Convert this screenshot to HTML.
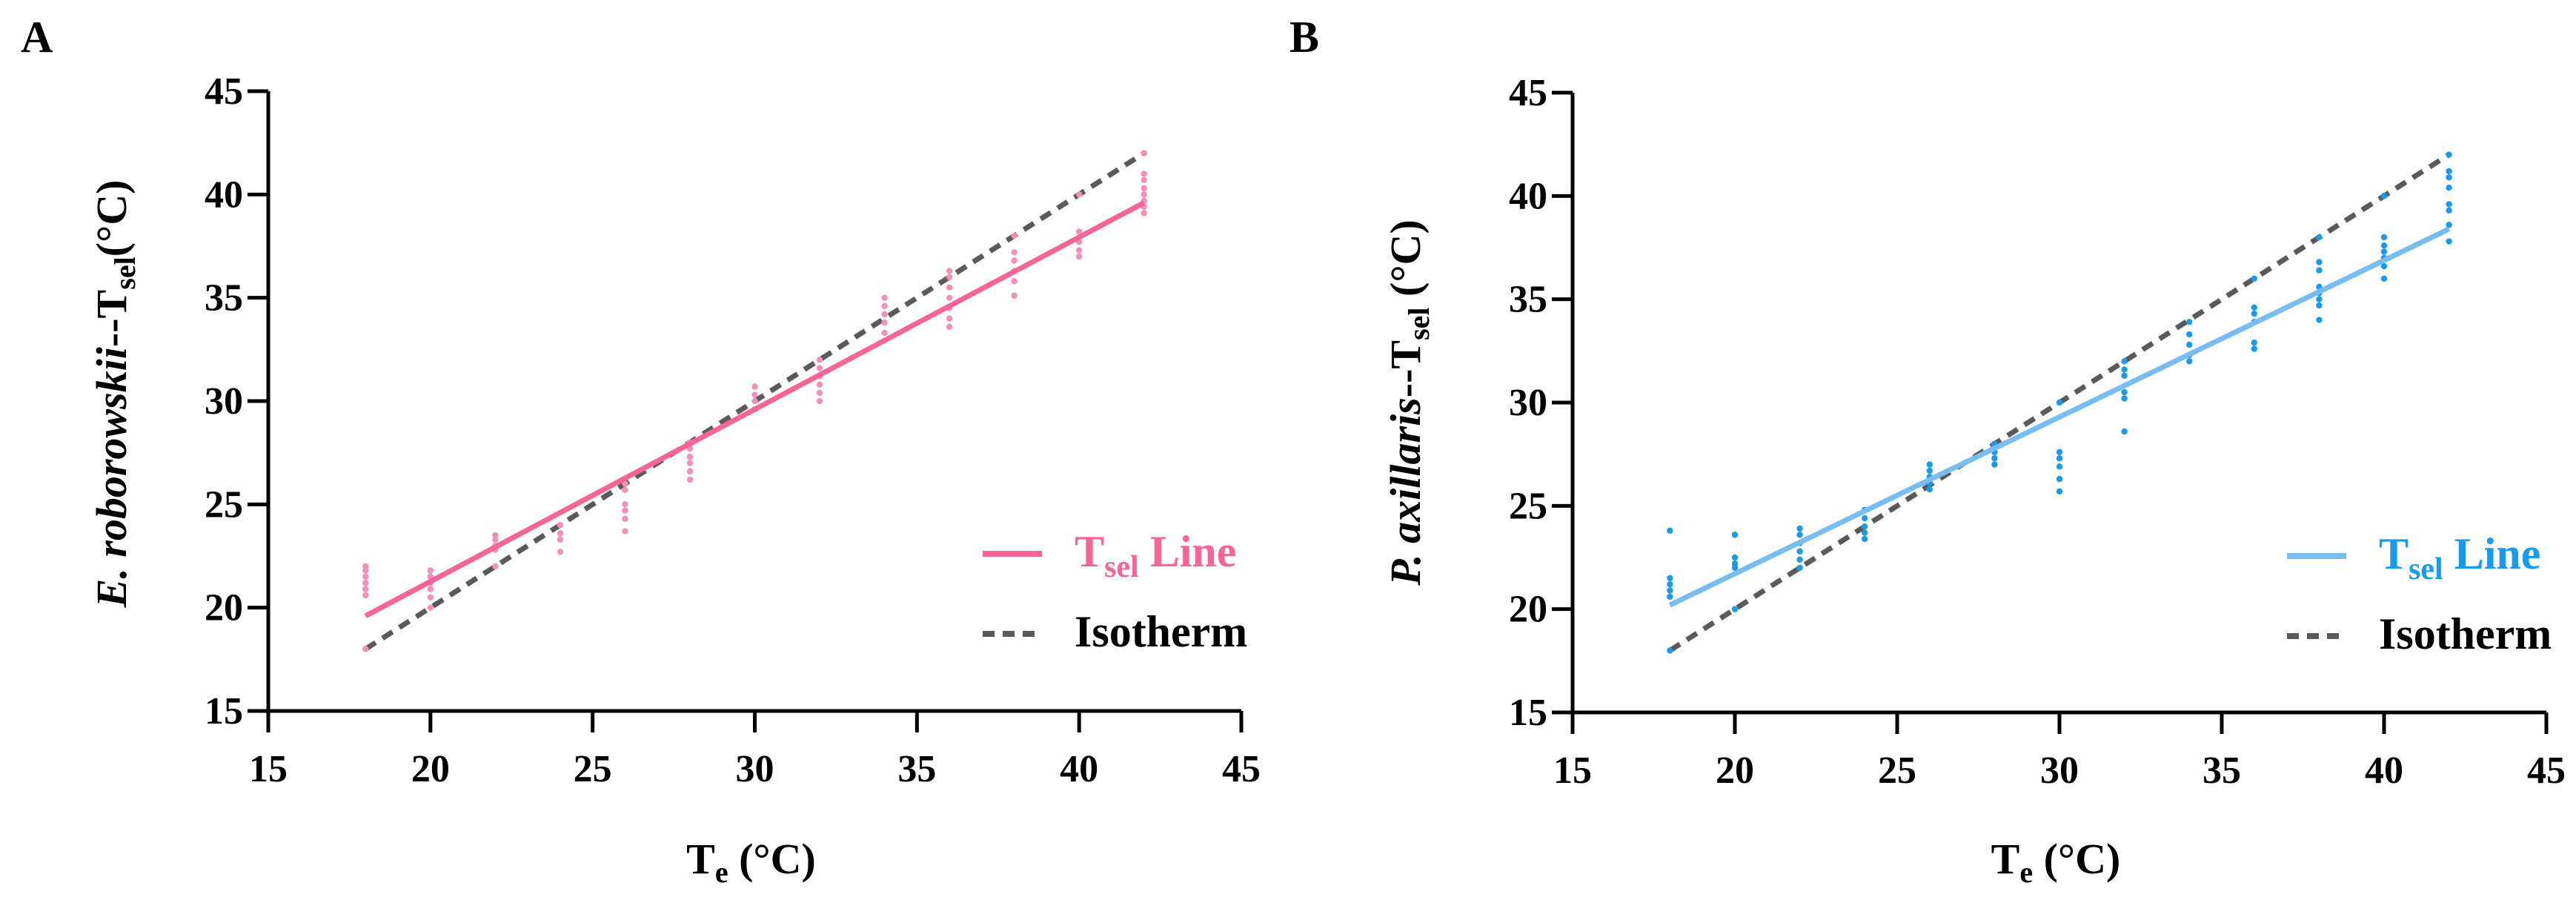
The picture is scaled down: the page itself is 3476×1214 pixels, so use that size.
<!DOCTYPE html>
<html><head><meta charset="utf-8">
<style>
html,body{margin:0;padding:0;background:#fff;}
svg{display:block;}
svg text{font-family:"Liberation Serif","Times New Roman","DejaVu Serif",serif;font-weight:bold;}
</style></head>
<body>
<svg id="fig" width="3476" height="1214" viewBox="0 0 3476 1214" xmlns="http://www.w3.org/2000/svg" font-family="Liberation Serif, serif" font-weight="bold"></svg>
<script>
const xTicks = [15,20,25,30,35,40,45];
const yTicks = [15,20,25,30,35,40,45];
const xLevels = [18,20,22,24,26,28,30,32,34,36,38,40,42];
const isoLine = [18,42];
const aLine = [19.6,39.6];
const bLine = [20.2,38.4];
const aPoints = [
 [18.0,20.6,20.9,21.2,21.5,21.8,22.0],
 [20.0,20.5,20.9,21.2,21.5,21.8],
 [22.0,22.8,23.0,23.3,23.5],
 [22.7,23.3,23.6,24.0],
 [23.7,24.3,24.7,25.0,25.7,26.0],
 [26.2,26.6,27.0,27.3,27.7,28.0],
 [29.6,30.0,30.3,30.7],
 [30.0,30.4,30.8,31.2,31.6,32.0],
 [33.3,33.8,34.2,34.6,35.0],
 [33.6,34.0,34.5,35.0,35.5,36.0,36.3],
 [35.1,35.8,36.3,36.8,37.2,38.0],
 [37.0,37.3,37.7,38.2,40.0],
 [39.1,39.4,39.7,40.0,40.3,40.7,41.0,42.0]
];
const bPoints = [
 [18.0,20.6,20.9,21.2,21.5,23.8],
 [20.0,22.0,22.2,22.5,23.6],
 [22.0,22.4,22.8,23.2,23.6,23.9],
 [23.4,23.7,24.0,24.4,24.8],
 [25.8,26.1,26.4,26.7,27.0],
 [27.0,27.3,27.6,27.9,28.0],
 [25.7,26.3,26.9,27.3,27.6,30.0],
 [28.6,30.2,30.5,31.3,31.6,32.0],
 [32.0,32.3,32.8,33.3,33.9],
 [32.6,32.9,33.9,34.3,34.6,36.0],
 [34.0,34.7,35.0,35.3,35.6,36.4,36.8,38.0],
 [36.0,36.6,37.0,37.3,37.6,38.0,40.0],
 [37.8,38.6,39.3,39.6,40.4,40.9,41.2,42.0]
];

const NS = "http://www.w3.org/2000/svg";
const svg = document.getElementById('fig');
const FONT = '"Liberation Serif", "Times New Roman", "DejaVu Serif", serif';
function mk(tag, attrs, parent, text){
  const e = document.createElementNS(NS, tag);
  for (const k in attrs) e.setAttribute(k, attrs[k]);
  if (tag === 'text') { e.style.fontFamily = FONT; e.style.fontWeight = 'bold'; }
  if (text !== undefined) e.textContent = text;
  (parent||svg).appendChild(e);
  return e;
}

function panel(cfg){
  const g = mk('g', {});
  
  
  const sx = v => cfg.x0 + (v-15)/30*(cfg.x1-cfg.x0);
  const sy = v => cfg.y0 - (v-15)/30*(cfg.y0-cfg.y1);
  const L = mk('text', {x:cfg.letterX, y:70, 'font-size':60}, g, cfg.letter);
  
  
  const iso = mk('line', {x1:sx(isoLine[0]), y1:sy(isoLine[0]), x2:sx(isoLine[1]), y2:sy(isoLine[1]), stroke:'#5a5a5a', 'stroke-width':7, 'stroke-dasharray':'16 11'}, g);
  
  
  const pg = mk('g', {fill:cfg.dot}, g);
  
  
  xLevels.forEach((xv,i)=>{
    cfg.points[i].forEach(yv=>{
      const c = mk('circle', {cx:sx(xv), cy:sy(yv), r:4.2}, pg);
      
      
    });
  });
  const fl = mk('line', {x1:sx(isoLine[0]), y1:sy(cfg.line[0]), x2:sx(isoLine[1]), y2:sy(cfg.line[1]), stroke:cfg.lineColor, 'stroke-width':7}, g);
  
  
  const ax = mk('path', {d:`M${cfg.x0},${cfg.y1} V${cfg.y0} H${cfg.x1}`, fill:'none', stroke:'#000', 'stroke-width':5}, g);
  
  
  yTicks.forEach(t=>{
    mk('line', {x1:cfg.x0-28, x2:cfg.x0, y1:sy(t), y2:sy(t), stroke:'#000', 'stroke-width':5}, g);
    const tl = mk('text', {x:cfg.x0-34, y:sy(t)+17, 'font-size':52, 'text-anchor':'end'}, g, String(t));
    
    
  });
  xTicks.forEach(t=>{
    mk('line', {x1:sx(t), x2:sx(t), y1:cfg.y0, y2:cfg.y0+29, stroke:'#000', 'stroke-width':5}, g);
    const tl = mk('text', {x:sx(t), y:cfg.y0+95, 'font-size':52, 'text-anchor':'middle'}, g, String(t));
    
    
  });
  const xt = mk('text', {x:(cfg.x0+cfg.x1)/2 - 5, y:1178, 'font-size':58, 'text-anchor':'middle'}, g);
  
  
  mk('tspan', {}, xt, 'T');
  mk('tspan', {'font-size':40, dy:12}, xt, 'e');
  mk('tspan', {dy:-12}, xt, ' (°C)');
  const yc = (cfg.y0+cfg.y1)/2;
  const yt = mk('text', {x:0, y:0, 'font-size':58, 'text-anchor':'middle', transform:`translate(${cfg.yTitleX},${yc+cfg.yTitleDy}) rotate(-90)`}, g);
  
  
  mk('tspan', {'font-style':'italic'}, yt, cfg.species);
  mk('tspan', {}, yt, '--T');
  mk('tspan', {'font-size':40, dy:12}, yt, 'sel');
  mk('tspan', {dy:-12}, yt, cfg.yUnit);
  const lg = mk('g', {}, g);
  
  
  mk('line', {x1:cfg.legX, x2:cfg.legX+80, y1:cfg.legY, y2:cfg.legY, stroke:cfg.lineColor, 'stroke-width':8}, lg);
  const t1 = mk('text', {x:cfg.legX+124, y:cfg.legY+17, 'font-size':60, fill:cfg.textColor}, lg);
  
  
  mk('tspan', {}, t1, 'T');
  mk('tspan', {'font-size':42, dy:14}, t1, 'sel');
  mk('tspan', {dy:-14}, t1, ' Line');
  mk('line', {x1:cfg.legX, x2:cfg.legX+80, y1:cfg.legY+108, y2:cfg.legY+108, stroke:'#5a5a5a', 'stroke-width':8, 'stroke-dasharray':'16 11'}, lg);
  const t2 = mk('text', {x:cfg.legX+124, y:cfg.legY+125, 'font-size':60, fill:'#000'}, lg, 'Isotherm');
  
  
}

panel({name:'panel-a', letter:'A', letterX:28, x0:362, x1:1675, y0:959, y1:123,
  points:aPoints, line:aLine, dot:'#f48fba', lineColor:'#f76597', textColor:'#f76597',
  species:'E. roborowskii', yUnit:'(°C)', yTitleX:170, yTitleDy:-10, legX:1326, legY:747});
panel({name:'panel-b', letter:'B', letterX:1740, x0:2122, x1:3436, y0:961, y1:125,
  points:bPoints, line:bLine, dot:'#1a9bea', lineColor:'#78bdf2', textColor:'#1a9bea',
  species:'P. axillaris', yUnit:' (°C)', yTitleX:1916, yTitleDy:0, legX:3086, legY:750});
</script>
</body></html>
